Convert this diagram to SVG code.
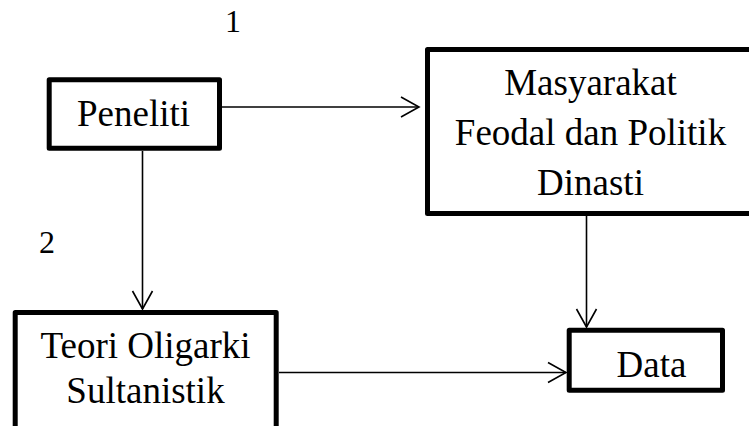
<svg xmlns="http://www.w3.org/2000/svg" width="749" height="426" viewBox="0 0 749 426">
<style>
.box{fill:#fff;stroke:#000;stroke-width:5;stroke-linejoin:round}
.t{font-family:"Liberation Serif","Times New Roman",serif;font-size:37px;fill:#000;text-anchor:middle}
.lbl{font-family:"Liberation Serif","Times New Roman",serif;font-size:32px;fill:#000;text-anchor:middle}
.c{fill:none;stroke:#000;stroke-width:1.6}
</style>
<defs>
<marker id="ah" markerUnits="userSpaceOnUse" markerWidth="24" markerHeight="24" viewBox="-20 -12 22 24" refX="0" refY="0" orient="auto">
<path d="M-18,-10 L0,0 L-18,10" fill="none" stroke="#000" stroke-width="1.6"/>
</marker>
</defs>
<rect width="749" height="426" fill="#fff"/>
<g id="connectors">
<path class="c" d="M222,107 H419" marker-end="url(#ah)"/>
<path class="c" d="M142.5,151 V309" marker-end="url(#ah)"/>
<path class="c" d="M586.5,216 V327" marker-end="url(#ah)"/>
<path class="c" d="M279,372.5 H566" marker-end="url(#ah)"/>
</g>
<g id="label1"><text class="lbl" x="233" y="32">1</text></g>
<g id="label2"><text class="lbl" x="47" y="253">2</text></g>
<g id="peneliti">
<rect class="box" x="49.2" y="79.8" width="170.3" height="68.4"/>
<text class="t" x="133.5" y="126">Peneliti</text>
</g>
<g id="masyarakat">
<rect class="box" x="427.5" y="49.5" width="340" height="164"/>
<text class="t" x="590.5" y="95">Masyarakat</text>
<text class="t" x="590.5" y="145">Feodal dan Politik</text>
<text class="t" x="590.5" y="195">Dinasti</text>
</g>
<g id="teori">
<rect class="box" x="15.2" y="312.5" width="261" height="140"/>
<text class="t" x="145.5" y="358">Teori Oligarki</text>
<text class="t" x="145.5" y="403">Sultanistik</text>
</g>
<g id="data">
<rect class="box" x="569.2" y="330.2" width="153.3" height="60"/>
<text class="t" x="651.5" y="376.5">Data</text>
</g>
</svg>
